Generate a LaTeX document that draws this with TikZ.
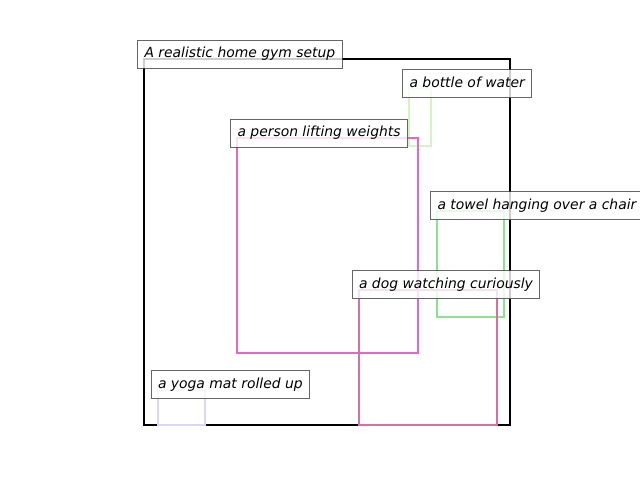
\documentclass[tikz,border=0pt]{standalone}
\usepackage{fontspec}
\setsansfont{DejaVu Sans}
\usepackage{xcolor}
\usepackage{tikz}
\usetikzlibrary{positioning}

\definecolor{bottlecol}{HTML}{D4F4C4}
\definecolor{personcol}{HTML}{E668C6}
\definecolor{towelcol}{HTML}{8BE48B}
\definecolor{dogcol}{HTML}{DA6EA2}
\definecolor{yogacol}{HTML}{DCD4F8}

\tikzset{
    region/.style={draw, line width=2pt, inner sep=0pt, outer sep=0pt, anchor=north west},
    tag/.style={draw=black!75, draw opacity=0.8, fill=white, fill opacity=0.8, text opacity=1,
        line width=1pt, inner sep=7pt, text height=10.5pt, text depth=3.4pt,
        anchor=south west, xshift=-7pt, yshift=-9.5pt,
        font=\fontsize{13.9}{16}\selectfont\sffamily\itshape}
}

\begin{document}
\begin{tikzpicture}[x=1pt,y=-1pt]
\useasboundingbox (0,0) rectangle (640,480);

\node[region, draw=black, minimum width=366pt, minimum height=366pt] at (144,59) (gym) {};
\node[region, draw=bottlecol, minimum width=21.5pt, minimum height=57pt] at (409,88.5) (bottle) {};
\node[region, draw=personcol, minimum width=180.5pt, minimum height=215pt] at (237,138) (person) {};
\node[region, draw=towelcol, minimum width=66.5pt, minimum height=106.5pt] at (437,210.5) (towel) {};
\node[region, draw=dogcol, minimum width=138pt, minimum height=135pt] at (358.5,289.5) (dog) {};
\node[region, draw=yogacol, minimum width=47.5pt, minimum height=35.5pt] at (157.5,389.5) (yoga) {};

\node[tag] at (gym.north west) (gymtag) {A realistic home gym setup};
\node[tag] at (bottle.north west) (bottletag) {a bottle of water};
\node[tag] at (person.north west) (persontag) {a person lifting weights};
\node[tag] at (towel.north west) (toweltag) {a towel hanging over a chair};
\node[tag] at (dog.north west) (dogtag) {a dog watching curiously};
\node[tag] at (yoga.north west) (yogatag) {a yoga mat rolled up};
\end{tikzpicture}
\end{document}
